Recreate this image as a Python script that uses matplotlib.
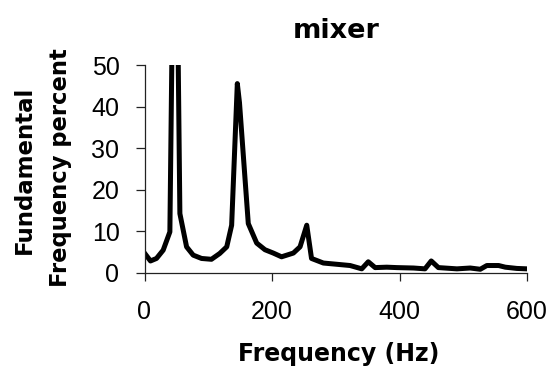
import matplotlib
matplotlib.use("Agg")
import matplotlib.pyplot as plt

freq_hz = [0, 9.4, 18.8, 29.3, 39.8, 48, 55.5, 66, 76.4, 89.5, 105, 118, 129,
           136.7, 145.6, 149, 162.8, 176, 189, 202, 215, 233.5, 244, 254.5, 262,
           280.6, 301.6, 322.5, 340.8, 351, 361.8, 380, 395.8, 422, 440, 449.8,
           461, 490, 511, 526.7, 537, 555.5, 566, 584, 600]
percent = [4.8, 2.9, 3.5, 5.5, 9.9, 120, 14.3, 6.3, 4.3, 3.5, 3.3, 4.7, 6.3,
           11.5, 45.6, 41, 11.9, 7.2, 5.6, 4.8, 3.9, 4.8, 6.3, 11.5, 3.5,
           2.4, 2.1, 1.8, 1.0, 2.7, 1.3, 1.4, 1.3, 1.2, 1.0, 2.9,
           1.3, 1.0, 1.2, 0.9, 1.8, 1.8, 1.4, 1.1, 1.0]
x_ticks = [0, 200, 400, 600]
y_ticks = [0, 10, 20, 30, 40, 50]

plt.rcParams['font.family'] = ['Liberation Sans', 'DejaVu Sans']

fig = plt.figure(figsize=(5.54, 3.72), dpi=100)
ax = fig.add_axes([144.5/554, 1-273/372, (527-144.5)/554, (273-65.3)/372])
ax.plot(freq_hz, percent, color='black', lw=3.6, solid_joinstyle='round')
ax.set_xlim(0, 600)
ax.set_ylim(0, 50)
ax.set_xticks(x_ticks)
ax.set_yticks(y_ticks)
for s in ['top', 'right']:
    ax.spines[s].set_visible(False)
for s in ['left', 'bottom']:
    ax.spines[s].set_linewidth(0.9)
    ax.spines[s].set_color('#222222')
ax.tick_params(axis='x', direction='out', length=6, width=0.9, pad=13.5, labelsize=18, colors='#222222', labelcolor='black')
ax.tick_params(axis='y', direction='out', length=6.5, width=0.9, pad=11.5, labelsize=18, colors='#222222', labelcolor='black')

bold = dict(fontweight='bold', family='DejaVu Sans')
fig.text(336/554, 1-38/372, 'mixer', ha='center', va='baseline', fontsize=19.5, **bold)
fig.text(339/554, 1-361.5/372, 'Frequency (Hz)', ha='center', va='baseline', fontsize=17, **bold)
fig.text(24/554, 1-170/372, 'Fundamental', ha='center', va='center', rotation=90, fontsize=16.5, **bold)
fig.text(60/554, 1-168/372, 'Frequency percent', ha='center', va='center', rotation=90, fontsize=16.3, **bold)

fig.savefig('out.png', dpi=100)
